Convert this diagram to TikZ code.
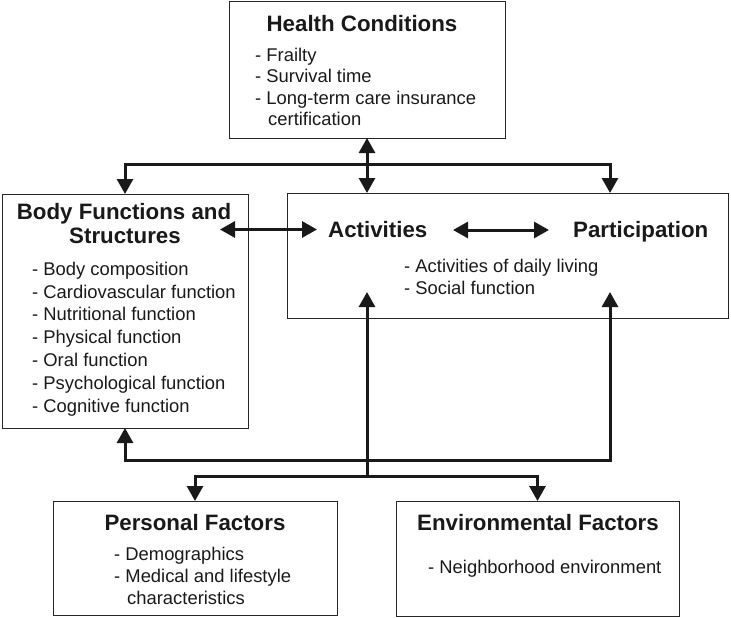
\documentclass[tikz,border=0pt]{standalone}
\usepackage{fontspec}
\setmainfont{Liberation Sans}
\usetikzlibrary{arrows.meta}
\begin{document}
\begin{tikzpicture}[x=1pt,y=-1pt,
  box/.style={draw=black!85,line width=1pt,inner sep=0pt,outer sep=0pt},
  ttl/.style={font=\fontsize{22.3}{24}\selectfont\bfseries,anchor=base,inner sep=0pt,text=black!90},
  itm/.style={font=\fontsize{18.4}{21}\selectfont,anchor=base west,inner sep=0pt,text=black!90},
  conn/.style={line width=3pt,black!90},
  both/.style={conn,{Triangle[length=15pt,width=16pt]}-{Triangle[length=15pt,width=16pt]}},
  one/.style={conn,-{Triangle[length=15pt,width=16pt]}}]
\useasboundingbox (0,0) rectangle (731,618);
% boxes
\node[box,minimum width=276pt,minimum height=136pt] (hc) at (367,70) {};
\node[box,minimum width=246pt,minimum height=234pt] (body) at (125,311) {};
\node[box,minimum width=441pt,minimum height=125pt] (act) at (507.5,255.5) {};
\node[box,minimum width=284pt,minimum height=114pt] (pers) at (195,558) {};
\node[box,minimum width=283pt,minimum height=115pt] (env) at (537.5,558.5) {};
% texts
\node[ttl] (hct) at (362,32) {Health Conditions};
\node[itm] (hc1) at (255,62) {- Frailty};
\node[itm] (hc2) at (255,83) {- Survival time};
\node[itm] (hc3) at (255,104) {- Long-term care insurance};
\node[itm] (hc4) at (268,125) {certification};
\node[ttl] (bt1) at (124,219) {Body Functions and};
\node[ttl] (bt2) at (125,243) {Structures};
\node[itm] (b1) at (32,275) {- Body composition};
\node[itm] (b2) at (32,298) {- Cardiovascular function};
\node[itm] (b3) at (32,320.5) {- Nutritional function};
\node[itm] (b4) at (32,343.5) {- Physical function};
\node[itm] (b5) at (32,366) {- Oral function};
\node[itm] (b6) at (32,389) {- Psychological function};
\node[itm] (b7) at (32,412) {- Cognitive function};
\node[ttl,anchor=base west] (at) at (328,237) {Activities};
\node[ttl,anchor=base west] (pt) at (573,237) {Participation};
\node[itm] (a1) at (404,272) {- Activities of daily living};
\node[itm] (a2) at (404,294.5) {- Social function};
\node[ttl] (pft) at (195,530) {Personal Factors};
\node[itm] (p1) at (114,560) {- Demographics};
\node[itm] (p2) at (114,582) {- Medical and lifestyle};
\node[itm] (p3) at (127,604) {characteristics};
\node[ttl] (eft) at (538,530) {Environmental Factors};
\node[itm] (e1) at (428,573) {- Neighborhood environment};
% junction coordinates
\coordinate (jt) at (367,164);
\coordinate (ptop) at (610,193);
\coordinate (jb) at (367,460);
\coordinate (pin) at (610,292);
\coordinate (ain) at (367,292);
\coordinate (jc) at (367,476);
\coordinate (ba1) at (220,229.5);
\coordinate (ba2) at (317,229.5);
\coordinate (ap1) at (453,230);
\coordinate (ap2) at (549,230);
% connectors
\draw[both] (hc.south) -- (hc.south |- act.north);
\draw[both,line join=miter] (body.north) -- (body.north |- jt) -- (ptop |- jt) -- (ptop);
\draw[both,line join=miter] (body.south) -- (body.south |- jb) -- (pin |- jb) -- (pin);
\draw[one] (jc) -- (ain);
\draw[both,line join=miter] (pers.north) -- (pers.north |- jc) -- (env.north |- jc) -- (env.north);
\draw[both] (ba1) -- (ba2);
\draw[both] (ap1) -- (ap2);
\end{tikzpicture}
\end{document}
